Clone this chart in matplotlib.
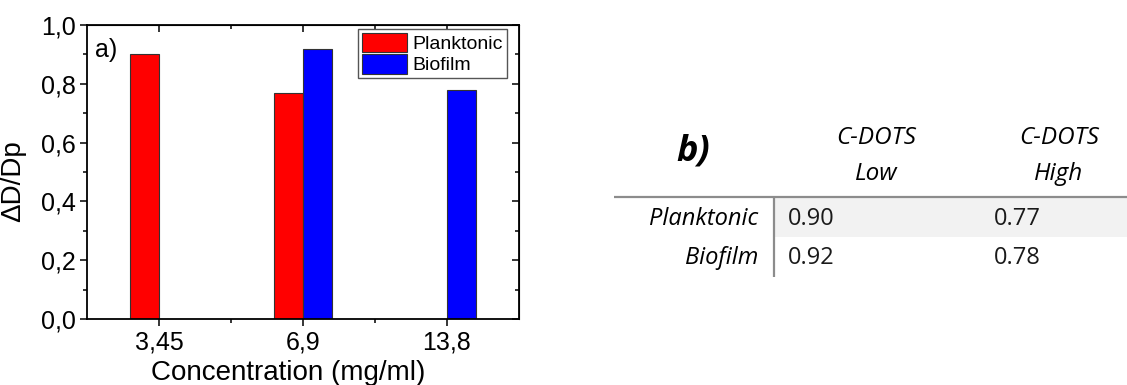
"""Bar chart of dD/Dp per concentration with a small summary table beside it."""

import matplotlib

matplotlib.use("Agg")
import matplotlib.pyplot as plt
import numpy as np
from matplotlib.ticker import FixedLocator, MultipleLocator

plt.rcParams["font.family"] = ["Liberation Sans", "DejaVu Sans"]

# bar chart data
concentrations = ["3,45", "6,9", "13,8"]
planktonic = [0.90, 0.77, np.nan]
biofilm = [np.nan, 0.92, 0.78]
series_names = ["Planktonic", "Biofilm"]
series_colors = ["#ff0000", "#0000ff"]
y_ticks = [0.0, 0.2, 0.4, 0.6, 0.8, 1.0]

# table data
row_labels = ["Planktonic", "Biofilm"]
col_top = ["C-DOTS", "C-DOTS"]
col_bottom = ["Low", "High"]
table_values = [[0.90, 0.77], [0.92, 0.78]]

W, H = 1127, 385
fig = plt.figure(figsize=(W / 100, H / 100), dpi=100)

# ---- panel a: bars -------------------------------------------------------
ax = fig.add_axes([87 / W, (H - 319) / H, 432 / W, 294 / H])
x = np.arange(len(concentrations))
width = 0.2
for offset, vals, name, col in zip((-0.1, 0.1), (planktonic, biofilm), series_names, series_colors):
    ax.bar(x + offset, vals, width, color=col, edgecolor="#333333", linewidth=0.8, label=name)

ax.set_xlim(-0.5, 2.5)
ax.set_ylim(0, 1.0)
ax.set_xticks(x)
ax.set_xticklabels(concentrations)
ax.xaxis.set_minor_locator(FixedLocator([0.5, 1.5]))
ax.set_yticks(y_ticks)
ax.set_yticklabels([f"{v:.1f}".replace(".", ",") for v in y_ticks])
ax.yaxis.set_minor_locator(MultipleLocator(0.1))
ax.tick_params(which="both", direction="out", width=1.1, labelsize=18, pad=3)
ax.tick_params(which="major", length=5)
ax.tick_params(which="minor", length=3)
for s in ax.spines.values():
    s.set_linewidth(1.3)

# inward ticks on top and right (Origin style)
top = ax.secondary_xaxis("top")
top.set_xticks(x)
top.xaxis.set_minor_locator(FixedLocator([0.5, 1.5]))
top.tick_params(which="both", direction="in", labeltop=False, width=1.1)
top.tick_params(which="major", length=5)
top.tick_params(which="minor", length=3)
right = ax.secondary_yaxis("right")
right.set_yticks(y_ticks)
right.yaxis.set_minor_locator(MultipleLocator(0.1))
right.tick_params(which="both", direction="in", labelright=False, width=1.1)
right.tick_params(which="major", length=5)
right.tick_params(which="minor", length=3)

ax.set_xlabel("Concentration (mg/ml)", fontsize=20)
ax.xaxis.set_label_coords(0.465, -0.14)
ax.set_ylabel("\u0394D/Dp", fontsize=20)
ax.yaxis.set_label_coords(-0.14, 0.47)
ax.text(0.018, 0.955, "a)", transform=ax.transAxes, fontsize=18, ha="left", va="top")

leg = ax.legend(
    loc="upper right",
    bbox_to_anchor=(0.972, 0.986),
    borderaxespad=0,
    fontsize=14,
    fancybox=False,
    framealpha=1,
    edgecolor="#555555",
    handlelength=2.3,
    handleheight=1.15,
    handletextpad=0.3,
    labelspacing=0.05,
    borderpad=0.2,
)
leg.get_frame().set_linewidth(1.0)

# ---- panel b: table ------------------------------------------------------
tab = fig.add_axes([580 / W, 0, (W - 580) / W, 1])
tab.set_xlim(580, W)
tab.set_ylim(H, 0)
tab.axis("off")

tfont = ["Open Sans", "DejaVu Sans"]
header_x = [876, 1059]
value_x = [788, 994]
row_y = [225, 264]
line_y, line_x0, split_x, table_bottom = 197, 614, 774, 277

tab.fill_between([split_x, W], line_y, 237, color="#f2f2f2", lw=0, zorder=0)
tab.plot([line_x0, W], [line_y, line_y], color="#8c8c8c", lw=1.6, solid_capstyle="butt")
tab.plot([split_x, split_x], [line_y, table_bottom], color="#8c8c8c", lw=1.6, solid_capstyle="butt")

tab.text(693, 161, "b)", family=tfont, fontsize=26, weight="bold", style="italic",
         ha="center", va="baseline")
for cx, t1, t2 in zip(header_x, col_top, col_bottom):
    tab.text(cx, 144, t1, family=tfont, fontsize=17.5, style="italic", ha="center", va="baseline")
    tab.text(cx, 180, t2, family=tfont, fontsize=17.5, style="italic", ha="center", va="baseline")
for ry, lab, vals in zip(row_y, row_labels, table_values):
    tab.text(758, ry, lab, family=tfont, fontsize=17, style="italic", ha="right", va="baseline")
    for vx, v in zip(value_x, vals):
        tab.text(vx, ry, f"{v:.2f}", family=tfont, fontsize=17, ha="left", va="baseline",
                 color="#1a1a1a")

fig.savefig("out.png", dpi=100)
